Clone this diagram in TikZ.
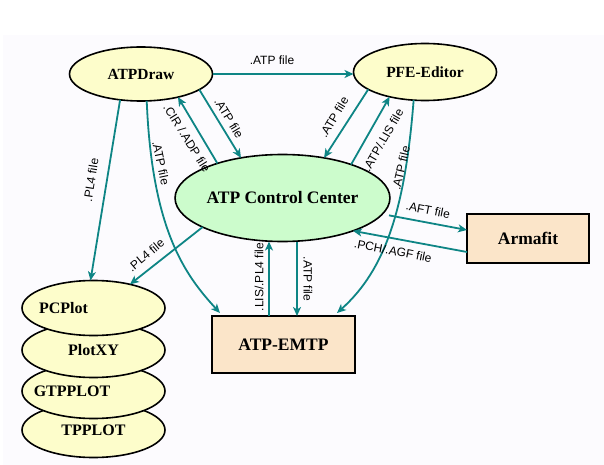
\documentclass[tikz,border=0pt]{standalone}
\usepackage{fontspec}
\setmainfont{Liberation Serif}
\setsansfont{Liberation Sans}
\usetikzlibrary{arrows.meta,shapes.geometric}
\definecolor{tealc}{HTML}{0E8585}
\definecolor{yel}{HTML}{FDFDCB}
\definecolor{grn}{HTML}{CCFCCC}
\definecolor{peach}{HTML}{FBE5C9}
\definecolor{bgc}{HTML}{FCFBFE}
\begin{document}
\begin{tikzpicture}[x=1pt,y=-1pt,
 ell/.style={ellipse, draw=black, line width=1.6pt, fill=yel, inner sep=0pt, outer sep=0pt,
   font=\fontsize{15.5}{16}\selectfont\bfseries},
 stk/.style={ell, minimum width=143pt, minimum height=55pt},
 stktext/.style={font=\fontsize{16}{17}\selectfont\bfseries, inner sep=0pt},
 box/.style={rectangle, draw=black, line width=1.8pt, fill=peach, inner sep=0pt, outer sep=0pt,
   minimum width=143pt, minimum height=57pt, font=\fontsize{17.5}{18}\selectfont\bfseries},
 conn/.style={draw=tealc, line width=1.8pt, -{Stealth[length=9pt,width=8pt,inset=2.5pt]}},
 lab/.style={font=\sffamily\fontsize{12}{13}\selectfont, inner sep=0pt}]
\useasboundingbox (0,0) rectangle (604,465);
\fill[bgc] (3,35) rectangle (604,465);

% nodes
\node[ell, minimum width=143pt, minimum height=54pt] (atpdraw) at (141,74) {ATPDraw};
\node[ell, minimum width=143pt, minimum height=57pt] (pfe) at (425,72) {PFE-Editor};
\node[ell, fill=grn, minimum width=199pt, minimum height=87pt,
  font=\fontsize{17.5}{18}\selectfont\bfseries] (ctrl) at (282.5,198) {ATP Control Center};
\node[box, minimum width=122pt, minimum height=49pt] (armafit) at (528,238.5) {Armafit};
\node[box] (emtp) at (283.5,344.5) {ATP-EMTP};

\node[stk, label={[stktext]center:TPPLOT}] (tpplot) at (93.5,430) {};
\node[stk, label={[stktext, xshift=-21.5pt]center:GTPPLOT}] (gtpplot) at (93.5,391) {};
\node[stk, label={[stktext]center:PlotXY}] (plotxy) at (93.5,350) {};
\node[stk, label={[stktext, xshift=-30pt]center:PCPlot}] (pcplot) at (93.5,308) {};

% connectors
\draw[conn] (atpdraw.east) -- (atpdraw.east -| pfe.west);
\draw[conn] (atpdraw.-15) -- (ctrl.136);
\draw[conn] (ctrl.152) -- (atpdraw.-32);
\draw[conn] (atpdraw.-129) -- ([xshift=-3pt]pcplot.north);
\draw[conn] (atpdraw.-78) .. controls (152,230) and (185,275) .. ([xshift=8pt,yshift=3pt]emtp.north west);
\draw[conn] (ctrl.-160) -- (pcplot.33);
\coordinate (x7) at (269,0);
\coordinate (x8) at (297,0);
\draw[conn] (emtp.north -| x7) -- (ctrl.south -| x7);
\draw[conn] (ctrl.south -| x8) -- (emtp.north -| x8);
\draw[conn] (pfe.-163) -- (ctrl.44);
\draw[conn] (ctrl.26) -- (pfe.-145);
\draw[conn] (pfe.-112) .. controls (405,210) and (385,270) .. ([xshift=-18pt,yshift=3pt]emtp.north east);
\draw[conn] ([xshift=8pt]ctrl.-10) -- ([yshift=8.5pt]armafit.west);
\draw[conn] ([yshift=-13.5pt]armafit.west) -- (ctrl.-25);

% labels
\node[lab] (l1) at (272,60) {.ATP file};
\node[lab, rotate=-59] (l2) at (229,118) {.ATP file};
\node[lab, rotate=-58] (l3) at (187,138) {.CIR /.ADP file};
\node[lab, rotate=81] (l4) at (91,180) {.PL4 file};
\node[lab, rotate=-78] (l5) at (161,163) {.ATP file};
\node[lab, rotate=40] (l6) at (146,255) {.PL4 file};
\node[lab, rotate=90] (l7) at (259,277) {.LIS/.PL4 file};
\node[lab, rotate=-90] (l8) at (308,279) {.ATP file};
\node[lab, rotate=59] (l9) at (334,117) {.ATP file};
\node[lab, rotate=60] (l10) at (383,140) {.ATP/.LIS file};
\node[lab, rotate=77] (l11) at (401,168) {.ATP file};
\node[lab, rotate=-11] (l12) at (428,210) {.AFT file};
\node[lab, rotate=-11] (l13) at (393,251) {.PCH/.AGF file};
\end{tikzpicture}
\end{document}
